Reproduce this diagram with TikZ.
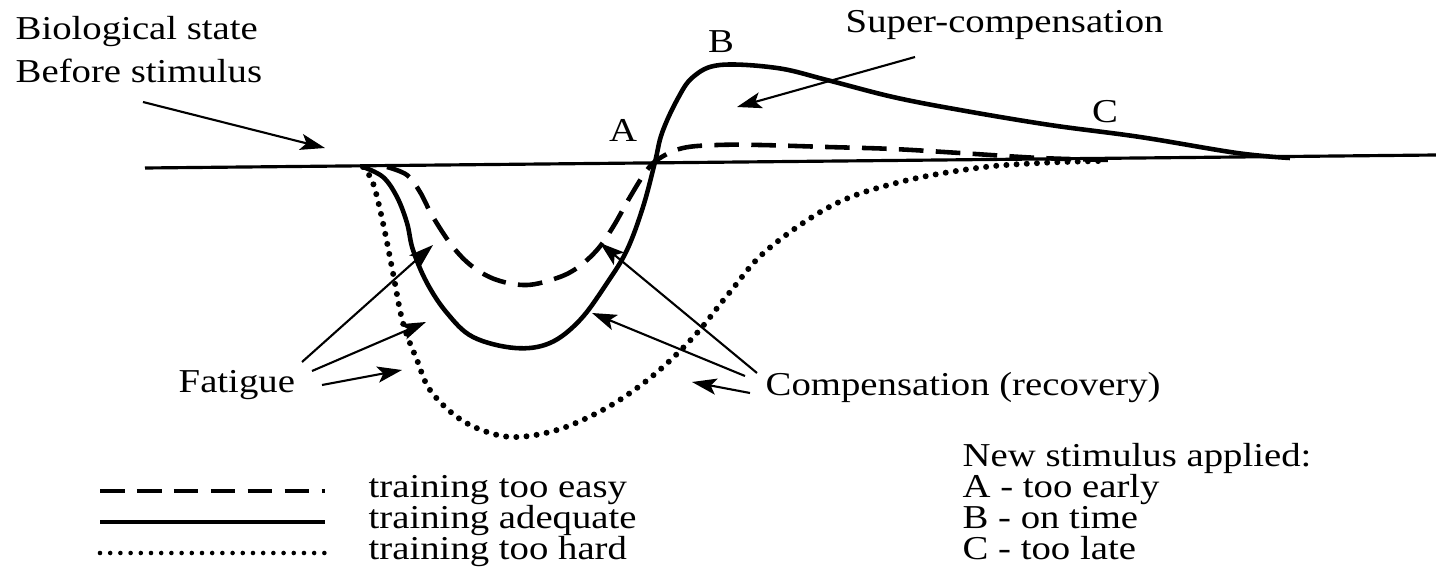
\documentclass[tikz,border=0pt]{standalone}
\usepackage{fontspec}
\setmainfont{Liberation Serif}[FakeStretch=1.16]
\usetikzlibrary{arrows.meta}

\begin{document}
\begin{tikzpicture}[x=0.01cm, y=-0.01cm,
	every node/.style={font=\fontsize{9.5}{11}\selectfont, inner sep=0pt},
	arr/.style={line width=0.6pt, -{Stealth[length=7pt, width=4.6pt, inset=1.6pt]}},
	adequate/.style={line width=1.3pt},
	easy/.style={line width=1.3pt, dash pattern=on 7pt off 3.5pt},
	hard/.style={line width=1.7pt, line cap=round, dash pattern=on 0pt off 2.9pt}]

	\useasboundingbox (0,0) rectangle (1436,585);

	% Labels
	\node[anchor=base west] (bio) at (15,40) {Biological state};
	\node[anchor=base west] (bef) at (15,83) {Before stimulus};
	\node[anchor=base west] (supc) at (845,33) {Super-compensation};
	\node (lA) at (623,130) {A};
	\node (lB) at (721,42) {B};
	\node (lC) at (1105,112) {C};
	\node[anchor=base west] (fat) at (178,393) {Fatigue};
	\node[anchor=base west] (comp) at (765,395) {Compensation (recovery)};

	% Baseline
	\coordinate (b0) at (145,168);
	\coordinate (b1) at (1436,155);
	\draw[line width=0.9pt] (b0) -- (b1);

	% Curves
	\draw[adequate] plot[smooth, tension=0.6] coordinates {(363,167) (383,177) (397,197) (407,223) (413,250) (427,283) (447,313) (473,337) (515,348) (550,343) (580,320) (607,283) (627,250) (643,207) (655,162) (662,133) (677,100) (693,77) (720,65) (777,68) (827,80) (893,97) (960,110) (1050,125) (1140,137) (1237,153) (1290,158)};
	\draw[easy] plot[smooth, tension=0.6] coordinates {(387,167) (407,175) (420,192) (433,217) (453,247) (473,267) (497,280) (527,285) (557,278) (577,268) (597,250) (613,227) (630,197) (647,170) (660,158) (683,148) (717,145) (760,145) (827,147) (893,149) (960,153) (1040,158) (1110,160)};
	\draw[hard] plot[smooth, tension=0.6] coordinates {(363,167) (373,183) (383,223) (393,273) (403,323) (417,360) (430,390) (457,417) (487,432) (517,437) (557,430) (597,413) (630,393) (663,367) (697,333) (730,292) (767,250) (833,205) (900,182) (977,168) (1040,163) (1100,161)};

	% Arrows
	\coordinate (bioS) at (143,102);  \coordinate (bioT) at (325,148);
	\coordinate (supS) at (915,57);   \coordinate (supT) at (737,107);
	\coordinate (f1S) at (302,362);   \coordinate (f1T) at (433,245);
	\coordinate (f2S) at (312,371);   \coordinate (f2T) at (426,322);
	\coordinate (f3S) at (322,385);   \coordinate (f3T) at (402,370);
	\coordinate (c1S) at (757,373);   \coordinate (c1T) at (600,243);
	\coordinate (c2S) at (745,376);   \coordinate (c2T) at (592,313);
	\coordinate (c3S) at (750,393);   \coordinate (c3T) at (692,382);
	\draw[arr] (bioS) -- (bioT);
	\draw[arr] (supS) -- (supT);
	\draw[arr] (f1S) -- (f1T);
	\draw[arr] (f2S) -- (f2T);
	\draw[arr] (f3S) -- (f3T);
	\draw[arr] (c1S) -- (c1T);
	\draw[arr] (c2S) -- (c2T);
	\draw[arr] (c3S) -- (c3T);

	% Legend
	\coordinate (e0) at (100,491); \coordinate (e1) at (325,491);
	\coordinate (a0) at (100,522); \coordinate (a1) at (325,522);
	\coordinate (h0) at (100,553); \coordinate (h1) at (325,553);
	\draw[easy] (e0) -- (e1);
	\draw[adequate] (a0) -- (a1);
	\draw[hard, line width=1.3pt] (h0) -- (h1);
	\node[anchor=base west] (tEasy) at (368,497) {training too easy};
	\node[anchor=base west] (tAdeq) at (368,528) {training adequate};
	\node[anchor=base west] (tHard) at (368,559) {training too hard};

	\node[anchor=base west] (nNew) at (962,466) {New stimulus applied:};
	\node[anchor=base west] (nA) at (962,497) {A - too early};
	\node[anchor=base west] (nB) at (962,528) {B - on time};
	\node[anchor=base west] (nC) at (962,559) {C - too late};

\end{tikzpicture}
\end{document}
